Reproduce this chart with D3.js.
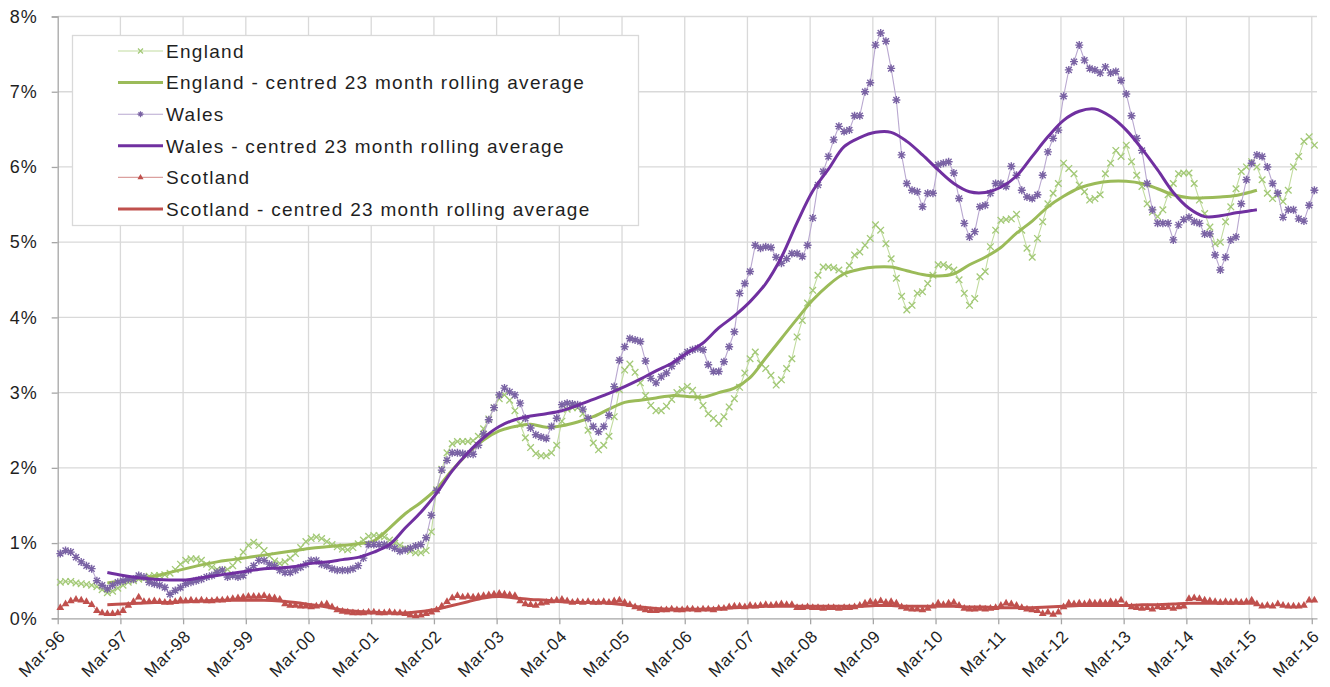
<!DOCTYPE html>
<html>
<head>
<meta charset="utf-8">
<script src="https://cdn.jsdelivr.net/npm/d3@7"></script>
<style>
  html, body { margin: 0; padding: 0; background: #ffffff; }
  svg { display: block; font-family: "Liberation Sans", Arial, sans-serif; }
</style>
</head>
<body>
<svg id="chart" width="1330" height="687"></svg>
<script>
// ---------------- DATA ----------------
// Monthly values, index 0 = Mar-96 ... index 240 = Mar-16 (percent)
const tickLabels = ["Mar-96","Mar-97","Mar-98","Mar-99","Mar-00","Mar-01","Mar-02","Mar-03","Mar-04","Mar-05",
  "Mar-06","Mar-07","Mar-08","Mar-09","Mar-10","Mar-11","Mar-12","Mar-13","Mar-14","Mar-15","Mar-16"];
const yTicks = [0, 1, 2, 3, 4, 5, 6, 7, 8];
const yTickLabels = ["0%","1%","2%","3%","4%","5%","6%","7%","8%"];
const seriesNames = ["England", "England - centred 23 month rolling average", "Wales",
  "Wales - centred 23 month rolling average", "Scotland", "Scotland - centred 23 month rolling average"];

const england = [
  0.48,0.49,0.49,0.47,0.46,0.45,0.44,0.42,0.38,0.34,0.36,0.40,
  0.44,0.48,0.50,0.52,0.53,0.56,0.57,0.57,0.58,0.60,0.65,0.72,
  0.77,0.79,0.79,0.77,0.72,0.68,0.65,0.64,0.65,0.70,0.78,0.88,
  0.97,1.01,0.97,0.90,0.83,0.76,0.73,0.75,0.80,0.86,0.94,1.02,
  1.06,1.08,1.06,1.02,0.98,0.95,0.92,0.91,0.94,0.99,1.04,1.09,
  1.10,1.10,1.08,1.04,1.00,0.97,0.93,0.89,0.87,0.87,0.90,1.15,
  1.71,1.98,2.20,2.32,2.35,2.35,2.35,2.36,2.42,2.52,2.65,2.80,
  2.92,2.97,2.90,2.76,2.58,2.40,2.27,2.19,2.16,2.16,2.20,2.30,
  2.62,2.78,2.80,2.80,2.72,2.50,2.33,2.24,2.30,2.42,2.68,3.04,
  3.30,3.38,3.27,3.13,2.96,2.83,2.76,2.76,2.82,2.91,3.00,3.04,
  3.08,3.03,2.94,2.83,2.72,2.66,2.59,2.68,2.81,2.92,3.07,3.26,
  3.45,3.54,3.39,3.32,3.23,3.10,3.17,3.32,3.45,3.74,3.96,4.19,
  4.36,4.56,4.67,4.67,4.66,4.63,4.58,4.69,4.83,4.87,4.96,5.05,
  5.23,5.16,4.98,4.78,4.52,4.28,4.10,4.16,4.32,4.34,4.45,4.56,
  4.70,4.70,4.67,4.63,4.50,4.32,4.16,4.25,4.54,4.61,4.94,5.16,
  5.29,5.30,5.31,5.37,5.16,4.92,4.80,5.05,5.27,5.51,5.65,5.78,
  6.05,5.98,5.91,5.76,5.67,5.56,5.58,5.63,5.91,6.05,6.22,6.14,
  6.29,6.07,5.89,5.74,5.51,5.40,5.34,5.43,5.63,5.78,5.91,5.92,
  5.92,5.78,5.56,5.38,5.20,4.98,5.00,5.27,5.47,5.71,5.94,6.00,
  6.07,6.00,5.83,5.65,5.58,5.63,5.54,5.69,6.00,6.14,6.34,6.40,
  6.29
];

const wales = [
  0.86,0.90,0.88,0.81,0.75,0.70,0.66,0.50,0.44,0.39,0.44,0.48,
  0.50,0.52,0.52,0.57,0.55,0.48,0.46,0.44,0.41,0.32,0.37,0.41,
  0.46,0.48,0.50,0.52,0.55,0.57,0.61,0.64,0.55,0.57,0.55,0.57,
  0.64,0.70,0.77,0.77,0.72,0.70,0.64,0.61,0.61,0.64,0.68,0.72,
  0.77,0.77,0.72,0.70,0.66,0.64,0.64,0.64,0.66,0.70,0.80,0.98,
  0.98,0.98,0.98,0.96,0.93,0.89,0.91,0.93,0.96,0.98,1.07,1.37,
  1.70,1.97,2.10,2.20,2.20,2.19,2.18,2.18,2.30,2.45,2.64,2.80,
  2.97,3.06,3.01,2.97,2.86,2.66,2.53,2.44,2.41,2.39,2.55,2.66,
  2.84,2.86,2.85,2.84,2.78,2.66,2.55,2.48,2.55,2.70,3.08,3.43,
  3.61,3.72,3.70,3.68,3.42,3.19,3.13,3.21,3.26,3.35,3.42,3.48,
  3.54,3.57,3.59,3.57,3.37,3.28,3.28,3.41,3.61,3.81,4.32,4.45,
  4.61,4.96,4.92,4.94,4.93,4.80,4.72,4.78,4.85,4.85,4.81,4.96,
  5.32,5.76,5.94,6.14,6.36,6.54,6.47,6.49,6.68,6.68,7.00,7.12,
  7.62,7.78,7.67,7.31,6.89,6.16,5.78,5.69,5.67,5.47,5.65,5.65,
  6.03,6.05,6.07,5.92,5.58,5.25,5.07,5.14,5.47,5.49,5.65,5.78,
  5.78,5.74,6.01,5.89,5.69,5.60,5.58,5.63,5.89,6.20,6.38,6.49,
  6.94,7.29,7.40,7.62,7.42,7.31,7.29,7.25,7.33,7.25,7.27,7.15,
  6.97,6.68,6.38,6.22,5.78,5.43,5.25,5.25,5.25,5.03,5.23,5.30,
  5.33,5.27,5.25,5.11,5.11,4.83,4.63,4.80,5.03,5.07,5.51,5.83,
  6.05,6.16,6.14,6.00,5.78,5.65,5.33,5.43,5.43,5.31,5.28,5.49,
  5.69
];

const scotland = [
  0.14,0.19,0.23,0.25,0.24,0.22,0.18,0.10,0.07,0.06,0.06,0.07,
  0.10,0.17,0.22,0.28,0.22,0.22,0.23,0.22,0.21,0.21,0.22,0.24,
  0.23,0.24,0.23,0.24,0.23,0.23,0.24,0.24,0.25,0.26,0.27,0.28,
  0.29,0.29,0.29,0.30,0.28,0.27,0.25,0.19,0.17,0.17,0.16,0.16,
  0.15,0.16,0.18,0.19,0.15,0.11,0.09,0.08,0.07,0.07,0.07,0.08,
  0.08,0.07,0.07,0.08,0.07,0.07,0.06,0.04,0.03,0.04,0.06,0.08,
  0.11,0.16,0.22,0.27,0.30,0.28,0.29,0.28,0.29,0.30,0.31,0.32,
  0.33,0.32,0.31,0.30,0.23,0.19,0.18,0.17,0.20,0.21,0.23,0.24,
  0.25,0.23,0.21,0.22,0.21,0.22,0.21,0.21,0.22,0.21,0.23,0.24,
  0.21,0.18,0.15,0.13,0.11,0.10,0.10,0.11,0.11,0.12,0.11,0.11,
  0.12,0.12,0.11,0.12,0.12,0.11,0.13,0.13,0.15,0.16,0.16,0.15,
  0.17,0.16,0.17,0.18,0.17,0.18,0.19,0.18,0.18,0.14,0.14,0.15,
  0.14,0.14,0.13,0.14,0.14,0.13,0.14,0.14,0.15,0.17,0.20,0.22,
  0.21,0.23,0.21,0.22,0.20,0.15,0.13,0.12,0.12,0.11,0.13,0.16,
  0.20,0.18,0.20,0.21,0.17,0.13,0.12,0.12,0.13,0.12,0.13,0.14,
  0.17,0.20,0.19,0.17,0.14,0.12,0.11,0.10,0.06,0.08,0.05,0.08,
  0.15,0.20,0.19,0.20,0.19,0.21,0.20,0.21,0.20,0.22,0.21,0.24,
  0.18,0.15,0.14,0.13,0.14,0.12,0.15,0.14,0.15,0.13,0.15,0.16,
  0.26,0.27,0.26,0.24,0.23,0.22,0.21,0.22,0.21,0.22,0.21,0.22,
  0.24,0.19,0.16,0.17,0.16,0.19,0.17,0.16,0.16,0.16,0.17,0.24,
  0.24
];

// Centred 23-month rolling averages, read at these month indices
const avgIndex = [9,12,15,18,21,24,27,30,33,36,39,42,45,48,51,54,57,60,63,66,69,72,75,78,81,84,87,90,93,96,
  99,102,105,108,111,114,117,120,123,126,129,132,135,138,141,144,147,150,153,156,159,162,165,168,171,174,177,
  180,183,186,189,192,195,198,201,204,207,210,213,216,219,222,225,228,229];

const englandAvg = [0.47,0.50,0.53,0.56,0.61,0.66,0.71,0.75,0.78,0.81,0.84,0.87,0.90,0.93,0.95,0.97,0.99,1.03,1.20,1.39,
  1.54,1.72,1.97,2.19,2.37,2.49,2.55,2.58,2.54,2.56,2.61,2.68,2.78,2.87,2.90,2.93,2.96,2.95,2.94,3.00,
  3.06,3.20,3.46,3.72,3.98,4.23,4.43,4.58,4.64,4.67,4.67,4.62,4.57,4.55,4.58,4.70,4.80,4.93,5.12,5.28,
  5.47,5.61,5.72,5.78,5.81,5.81,5.78,5.71,5.63,5.59,5.59,5.60,5.62,5.67,5.69];

const walesAvg = [0.61,0.57,0.54,0.52,0.51,0.51,0.54,0.57,0.60,0.63,0.66,0.67,0.69,0.73,0.75,0.78,0.81,0.88,0.98,1.20,
  1.41,1.66,1.96,2.20,2.40,2.55,2.64,2.69,2.72,2.76,2.83,2.91,2.99,3.08,3.18,3.29,3.39,3.53,3.66,3.86,
  4.02,4.21,4.45,4.80,5.26,5.68,5.97,6.27,6.39,6.46,6.46,6.34,6.16,5.96,5.78,5.67,5.66,5.73,5.88,6.14,
  6.40,6.62,6.74,6.77,6.67,6.49,6.24,5.96,5.66,5.45,5.34,5.35,5.39,5.42,5.43];

const scotlandAvg = [0.18,0.19,0.20,0.21,0.21,0.22,0.23,0.24,0.24,0.24,0.24,0.23,0.21,0.18,0.15,0.11,0.09,0.08,0.07,0.07,
  0.09,0.12,0.17,0.22,0.27,0.29,0.27,0.25,0.24,0.22,0.21,0.21,0.20,0.18,0.15,0.13,0.12,0.12,0.12,0.13,
  0.14,0.15,0.16,0.16,0.16,0.16,0.16,0.16,0.16,0.17,0.17,0.16,0.16,0.16,0.16,0.15,0.15,0.14,0.14,0.14,
  0.15,0.16,0.17,0.17,0.17,0.17,0.18,0.18,0.19,0.20,0.20,0.20,0.20,0.20,0.20];

// ---------------- STYLE ----------------
const C = {
  engLine: "#c2dca0", engMark: "#a3c977", engAvg: "#9bbb59",
  walLine: "#b9a8d0", walMark: "#7a63a4", walAvg: "#7030a0",
  scoLine: "#dba09e", scoMark: "#c0504d", scoAvg: "#c0504d",
  grid: "#d9d9d9", axis: "#a6a6a6", text: "#1f1f1f"
};

const svg = d3.select("#chart");
const plotL = 57.7, plotR = 1317, plotT = 16.5, plotB = 618.3;
const nMonths = 241;
const x = d3.scaleLinear().domain([0, nMonths]).range([plotL, plotR]);
const y = d3.scaleLinear().domain([0, 8]).range([plotB, plotT]);
const px = i => x(i + 0.5);

// gridlines
const g = svg.append("g");
g.selectAll("line.hg").data(yTicks.filter(d => d > 0)).enter().append("line")
  .attr("x1", plotL).attr("x2", plotR).attr("y1", d => y(d)).attr("y2", d => y(d))
  .attr("stroke", C.grid).attr("stroke-width", 1.3);
g.selectAll("line.vg").data(tickLabels.slice(1)).enter().append("line")
  .attr("x1", (d, i) => x((i + 1) * 12)).attr("x2", (d, i) => x((i + 1) * 12))
  .attr("y1", plotT).attr("y2", plotB)
  .attr("stroke", C.grid).attr("stroke-width", 1.3);

// axes
const yAxis = d3.axisLeft(y).tickValues(yTicks).tickFormat((d, i) => yTickLabels[i]).tickSize(6).tickPadding(14);
const yg = svg.append("g").attr("transform", `translate(${plotL},0)`).call(yAxis);
yg.select(".domain").attr("stroke", C.axis).attr("stroke-width", 1.3);
yg.selectAll(".tick line").attr("stroke", C.axis).attr("stroke-width", 1.3);
yg.selectAll(".tick text").attr("fill", C.text).style("font-size", "18px").style("letter-spacing", "1px")
  .attr("font-family", "Liberation Sans, Arial, sans-serif");

const xAxis = d3.axisBottom(x).tickValues(tickLabels.map((d, i) => i * 12))
  .tickFormat((d, i) => tickLabels[i]).tickSize(6).tickSizeOuter(0);
const xg = svg.append("g").attr("transform", `translate(0,${plotB})`).call(xAxis);
xg.select(".domain").attr("stroke", C.axis).attr("stroke-width", 1.3);
xg.selectAll(".tick line").attr("stroke", C.axis).attr("stroke-width", 1.3);
xg.selectAll(".tick text")
  .attr("fill", C.text).style("font-size", "17px").style("letter-spacing", "0.6px")
  .attr("font-family", "Liberation Sans, Arial, sans-serif")
  .attr("text-anchor", "end").attr("y", 0).attr("dy", "0.35em")
  .attr("transform", "translate(4,15) rotate(-45)");

// markers
const xMark = "M-3.3,-3.3L3.3,3.3M-3.3,3.3L3.3,-3.3";
const starMark = "M-3,-3L3,3M-3,3L3,-3M0,-4L0,4M-4,0L4,0";
const triMark = d3.symbol(d3.symbolTriangle).size(26)();

function drawRaw(data, lineColor, markColor, type) {
  const line = d3.line().x((d, i) => px(i)).y(d => y(d));
  svg.append("path").datum(data).attr("d", line).attr("fill", "none")
    .attr("stroke", lineColor).attr("stroke-width", 1.1);
  const mg = svg.append("g");
  const m = mg.selectAll("path").data(data).enter().append("path")
    .attr("transform", (d, i) => `translate(${px(i)},${y(d)})`);
  if (type === "x") m.attr("d", xMark).attr("stroke", markColor).attr("stroke-width", 1.3).attr("fill", "none");
  if (type === "star") m.attr("d", starMark).attr("stroke", markColor).attr("stroke-width", 1.4).attr("fill", "none");
  if (type === "tri") m.attr("d", triMark).attr("fill", markColor);
}
function drawAvg(vals, color) {
  const line = d3.line().x((d, i) => px(avgIndex[i])).y(d => y(d)).curve(d3.curveCatmullRom.alpha(0.5));
  svg.append("path").datum(vals).attr("d", line).attr("fill", "none")
    .attr("stroke", color).attr("stroke-width", 3).attr("stroke-linejoin", "round");
}

drawRaw(england, C.engLine, C.engMark, "x");
drawAvg(englandAvg, C.engAvg);
drawRaw(wales, C.walLine, C.walMark, "star");
drawAvg(walesAvg, C.walAvg);
drawRaw(scotland, C.scoLine, C.scoMark, "tri");
drawAvg(scotlandAvg, C.scoAvg);

// legend
const lg = svg.append("g");
lg.append("rect").attr("x", 72.5).attr("y", 35.5).attr("width", 566).attr("height", 190)
  .attr("fill", "#ffffff").attr("stroke", C.grid).attr("stroke-width", 1.3);
const legendItems = [
  {t: seriesNames[0], c: C.engLine, m: C.engMark, type: "x", w: 1.1},
  {t: seriesNames[1], c: C.engAvg, type: null, w: 3},
  {t: seriesNames[2], c: C.walLine, m: C.walMark, type: "star", w: 1.1},
  {t: seriesNames[3], c: C.walAvg, type: null, w: 3},
  {t: seriesNames[4], c: C.scoLine, m: C.scoMark, type: "tri", w: 1.1},
  {t: seriesNames[5], c: C.scoAvg, type: null, w: 3}
];
legendItems.forEach((it, i) => {
  const cy = 51 + i * 31.6;
  lg.append("line").attr("x1", 118).attr("x2", 163).attr("y1", cy).attr("y2", cy)
    .attr("stroke", it.c).attr("stroke-width", it.w);
  if (it.type === "x") lg.append("path").attr("d", "M-2.5,-2.5L2.5,2.5M-2.5,2.5L2.5,-2.5")
    .attr("transform", `translate(140.5,${cy})`).attr("stroke", it.m).attr("stroke-width", 1.2).attr("fill", "none");
  if (it.type === "star") lg.append("path").attr("d", "M-2,-2L2,2M-2,2L2,-2M0,-3L0,3M-3,0L3,0")
    .attr("transform", `translate(140.5,${cy})`).attr("stroke", it.m).attr("stroke-width", 1.2).attr("fill", "none");
  if (it.type === "tri") lg.append("path").attr("d", d3.symbol(d3.symbolTriangle).size(16)())
    .attr("transform", `translate(140.5,${cy})`).attr("fill", it.m);
  lg.append("text").attr("x", 166).attr("y", cy).attr("dy", "0.36em")
    .attr("fill", C.text).style("font-size", "19px").style("letter-spacing", "1.3px")
    .text(it.t);
});
</script>
</body>
</html>
